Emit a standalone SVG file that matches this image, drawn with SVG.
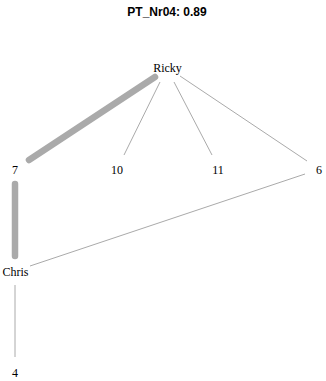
<svg xmlns="http://www.w3.org/2000/svg" width="326" height="381" viewBox="0 0 326 381">
<style>
.lbl{font-family:"Liberation Serif",serif;font-size:12px;fill:#000;text-anchor:middle}
.thin{stroke:#aaaaaa;stroke-width:1;fill:none}
.thick{stroke:#aaaaaa;stroke-width:6.5;stroke-linecap:round;fill:none}
</style>
<rect width="326" height="381" fill="#fff"/>
<text x="167" y="16" font-family="Liberation Sans,Arial,sans-serif" font-size="12" font-weight="bold" text-anchor="middle">PT_Nr04: 0.89</text>
<g id="connectors">
<line class="thick" x1="155" y1="77" x2="29" y2="160"/>
<line class="thin" x1="160" y1="82" x2="124" y2="155"/>
<line class="thin" x1="174" y1="82" x2="212" y2="155"/>
<line class="thin" x1="180" y1="76" x2="307" y2="161"/>
<line class="thick" x1="15" y1="184" x2="15" y2="256"/>
<line class="thin" x1="30" y1="266" x2="305" y2="174"/>
<line class="thin" x1="15" y1="285" x2="15" y2="357"/>
</g>
<g id="node-Ricky"><text class="lbl" x="167.5" y="71.5">Ricky</text></g>
<g id="node-7"><text class="lbl" x="15" y="173.5">7</text></g>
<g id="node-10"><text class="lbl" x="117" y="173.5">10</text></g>
<g id="node-11"><text class="lbl" x="218" y="173.5">11</text></g>
<g id="node-6"><text class="lbl" x="319" y="173.5">6</text></g>
<g id="node-Chris"><text class="lbl" x="15.5" y="275.5">Chris</text></g>
<g id="node-4"><text class="lbl" x="15" y="376.5">4</text></g>
</svg>
